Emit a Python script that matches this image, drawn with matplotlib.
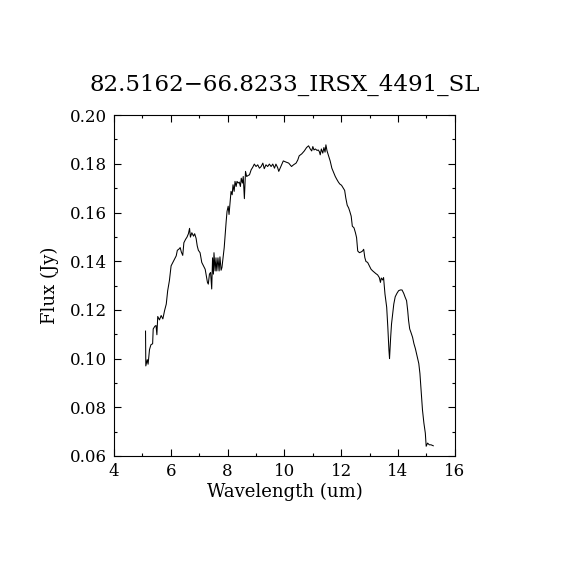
import matplotlib
matplotlib.use("Agg")
import matplotlib.pyplot as plt
from matplotlib.ticker import MultipleLocator

# spectrum
wavelength = [
    5.11, 5.12, 5.17, 5.20, 5.25, 5.30, 5.36, 5.38, 5.44, 5.48, 5.51, 5.54, 5.60, 5.66,
    5.72, 5.78, 5.84, 5.89, 5.95, 6.01, 6.07, 6.13, 6.19, 6.23, 6.28, 6.33, 6.37, 6.42,
    6.46, 6.52, 6.57, 6.62, 6.66, 6.69, 6.74, 6.80, 6.84, 6.89, 6.93, 6.97, 7.03, 7.09,
    7.15, 7.21, 7.25, 7.29, 7.32, 7.36, 7.40, 7.44, 7.47, 7.50, 7.52, 7.56, 7.59, 7.62,
    7.66, 7.70, 7.73, 7.77, 7.80, 7.84, 7.88, 7.91, 7.95, 7.98, 8.02, 8.05, 8.09, 8.12,
    8.16, 8.19, 8.23, 8.26, 8.30, 8.33, 8.37, 8.41, 8.45, 8.48, 8.52, 8.55, 8.59, 8.63,
    8.67, 8.72, 8.77, 8.83, 8.88, 8.94, 9.00, 9.06, 9.12, 9.18, 9.24, 9.29, 9.35, 9.41,
    9.47, 9.53, 9.59, 9.65, 9.70, 9.76, 9.80, 9.85, 9.90, 9.96, 10.06, 10.15, 10.25,
    10.32, 10.41, 10.47, 10.52, 10.61, 10.70, 10.78, 10.85, 10.91, 10.96, 11.00, 11.04,
    11.09, 11.15, 11.19, 11.23, 11.26, 11.30, 11.35, 11.39, 11.43, 11.46, 11.50, 11.56,
    11.61, 11.67, 11.73, 11.79, 11.84, 11.90, 11.95, 12.01, 12.07, 12.12, 12.16, 12.21,
    12.26, 12.30, 12.35, 12.39, 12.45, 12.50, 12.54, 12.58, 12.64, 12.70, 12.75, 12.79,
    12.83, 12.87, 12.93, 12.99, 13.05, 13.11, 13.17, 13.22, 13.28, 13.34, 13.38, 13.41,
    13.46, 13.49, 13.54, 13.60, 13.64, 13.68, 13.70, 13.74, 13.77, 13.81, 13.85, 13.90,
    13.96, 14.02, 14.08, 14.14, 14.20, 14.25, 14.30, 14.34, 14.37, 14.41, 14.45, 14.51,
    14.56, 14.61, 14.67, 14.73, 14.77, 14.82, 14.86, 14.91, 14.96, 14.99, 15.04, 15.10,
    15.16, 15.24,
]
flux = [
    0.1113, 0.0970, 0.0996, 0.0977, 0.1037, 0.1057, 0.1061, 0.1122, 0.1133, 0.1136, 0.1098,
    0.1173, 0.1159, 0.1177, 0.1163, 0.1197, 0.1224, 0.1279, 0.1320, 0.1381, 0.1395, 0.1408,
    0.1422, 0.1445, 0.1449, 0.1456, 0.1438, 0.1424, 0.1476, 0.1490, 0.1499, 0.1513, 0.1535,
    0.1499, 0.1517, 0.1503, 0.1513, 0.1494, 0.1463, 0.1445, 0.1435, 0.1395, 0.1381, 0.1367,
    0.1340, 0.1313, 0.1306, 0.1347, 0.1354, 0.1286, 0.1414, 0.1347, 0.1435, 0.1360, 0.1414,
    0.1360, 0.1414, 0.1360, 0.1418, 0.1363, 0.1374, 0.1414, 0.1456, 0.1503, 0.1565, 0.1605,
    0.1626, 0.1592, 0.1646, 0.1687, 0.1673, 0.1714, 0.1687, 0.1728, 0.1707, 0.1728, 0.1721,
    0.1725, 0.1707, 0.1741, 0.1721, 0.1748, 0.1657, 0.1769, 0.1748, 0.1752, 0.1755, 0.1776,
    0.1785, 0.1799, 0.1789, 0.1796, 0.1782, 0.1789, 0.1803, 0.1780, 0.1796, 0.1789, 0.1799,
    0.1789, 0.1799, 0.1782, 0.1799, 0.1785, 0.1769, 0.1782, 0.1796, 0.1812, 0.1807, 0.1803,
    0.1789, 0.1796, 0.1803, 0.1816, 0.1833, 0.1841, 0.1853, 0.1867, 0.1874, 0.1861, 0.1853,
    0.1871, 0.1857, 0.1861, 0.1855, 0.1857, 0.1850, 0.1837, 0.1861, 0.1844, 0.1867, 0.1848,
    0.1878, 0.1853, 0.1830, 0.1812, 0.1782, 0.1765, 0.1748, 0.1737, 0.1725, 0.1717, 0.1712,
    0.1701, 0.1691, 0.1660, 0.1630, 0.1619, 0.1605, 0.1585, 0.1544, 0.1537, 0.1517, 0.1497,
    0.1442, 0.1435, 0.1438, 0.1442, 0.1449, 0.1415, 0.1399, 0.1395, 0.1381, 0.1367, 0.1360,
    0.1354, 0.1349, 0.1344, 0.1333, 0.1313, 0.1331, 0.1323, 0.1333, 0.1265, 0.1211, 0.1129,
    0.1033, 0.1000, 0.1088, 0.1142, 0.1184, 0.1224, 0.1254, 0.1268, 0.1279, 0.1282, 0.1282,
    0.1268, 0.1252, 0.1238, 0.1197, 0.1157, 0.1122, 0.1109, 0.1088, 0.1061, 0.1041, 0.1010,
    0.0980, 0.0939, 0.0857, 0.0789, 0.0735, 0.0694, 0.0640, 0.0653, 0.0646, 0.0646, 0.0642,
]

title = "82.5162\u221266.8233_IRSX_4491_SL"

plt.rcParams['font.family'] = ['DejaVu Serif']

fig = plt.figure(figsize=(5.7, 5.7), dpi=100)
ax = fig.add_axes([0.2, 0.2, 0.598, 0.598])

ax.plot(wavelength, flux, color='black', linewidth=0.75)

ax.set_xlim(4, 16)
ax.set_ylim(0.06, 0.20)
ax.xaxis.set_major_locator(MultipleLocator(2))
ax.xaxis.set_minor_locator(MultipleLocator(1))
ax.yaxis.set_major_locator(MultipleLocator(0.02))
ax.yaxis.set_minor_locator(MultipleLocator(0.01))
ax.yaxis.set_major_formatter(plt.FormatStrFormatter('%.2f'))
ax.tick_params(which='both', direction='in', top=True, right=True, width=0.8,
               labelsize=12, colors='black')
ax.tick_params(which='major', length=5, pad=5)
ax.tick_params(which='minor', length=2.5)
for s in ax.spines.values():
    s.set_linewidth(0.8)

ax.set_xlabel("Wavelength (um)", fontsize=13, labelpad=2)
ax.set_ylabel("Flux (Jy)", fontsize=13, labelpad=8)
fig.text(0.5, 0.84, title, ha='center', va='baseline', fontsize=16.5)

fig.savefig("out.png", dpi=100, facecolor='white')
